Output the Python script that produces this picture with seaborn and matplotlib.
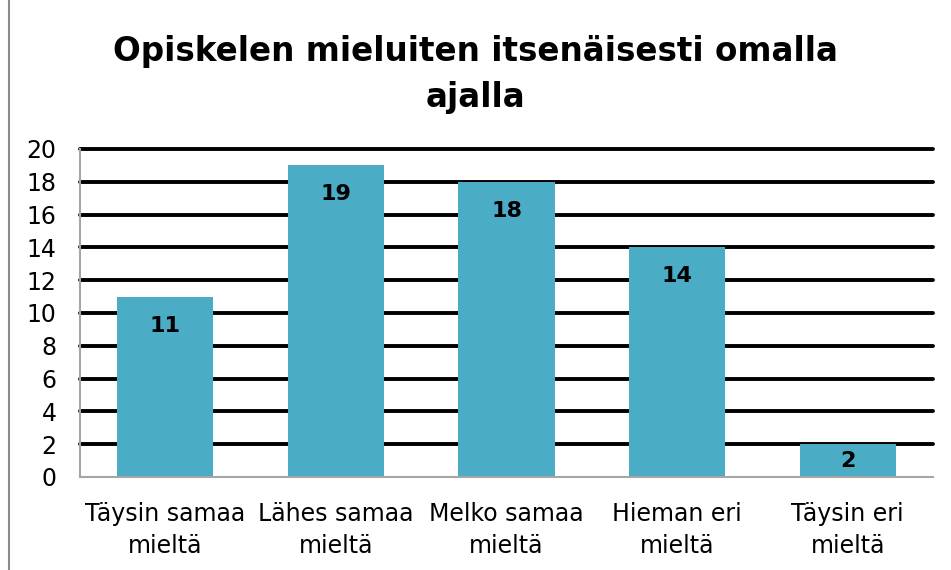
import pandas as pd
import seaborn as sns
import matplotlib.pyplot as plt
from matplotlib.lines import Line2D

kategoriat = ["Täysin samaa\nmieltä", "Lähes samaa\nmieltä", "Melko samaa\nmieltä",
              "Hieman eri\nmieltä", "Täysin eri\nmieltä"]
maarat = [11, 19, 18, 14, 2]

df = pd.DataFrame({"Vastaus": kategoriat, "Maara": maarat})

sns.set_style("white")
plt.rcParams["font.family"] = ["DejaVu Sans"]
plt.rcParams["text.color"] = "black"

fig = plt.figure(figsize=(9.51, 5.70), dpi=100)
ax = fig.add_axes([80 / 951, 1 - 477 / 570, (933 - 80) / 951, (477 - 149) / 570])

sns.barplot(data=df, x="Vastaus", y="Maara", color="#4BACC6", saturation=1,
            width=0.565, linewidth=0, ax=ax, zorder=3)

ax.set_ylim(0, 20)
ax.set_xlim(-0.5, 4.5)
ax.set_yticks(range(0, 21, 2))
ax.yaxis.grid(True, color="black", linewidth=2.8, zorder=0)
gl = ax.get_ygridlines()
for g in gl:
    g.set_clip_on(False)
gl[0].set_visible(False)
ax.set_axisbelow(True)
ax.set_xlabel("")
ax.set_ylabel("")
ax.tick_params(axis="y", labelsize=17, length=0, pad=17, labelcolor="black")
ax.tick_params(axis="x", labelsize=17, length=0, pad=18, labelcolor="black")
for t in ax.get_xticklabels():
    t.set_linespacing(1.4)
for s in ["top", "right"]:
    ax.spines[s].set_visible(False)
for s in ["left", "bottom"]:
    ax.spines[s].set_color("#A6A6A6")
    ax.spines[s].set_linewidth(1.5)
    ax.spines[s].set_zorder(4)

# arvot palkkien sisään, yläreunan alle
for i, v in enumerate(maarat):
    y = v - min(1.77, v / 2)
    ax.text(i, y, str(v), ha="center", va="center", fontsize=16,
            fontweight="bold", color="black", zorder=5)

fig.text(0.5, 1 - 51 / 570, "Opiskelen mieluiten itsenäisesti omalla", ha="center",
         va="center", fontsize=23.5, fontweight="bold")
fig.text(0.5, 1 - 98 / 570, "ajalla", ha="center", va="center",
         fontsize=23.5, fontweight="bold")

fig.add_artist(Line2D([9 / 951, 9 / 951], [0, 1], transform=fig.transFigure,
                      color="#8C8C8C", linewidth=1.5))

fig.savefig("out.png", dpi=100)
